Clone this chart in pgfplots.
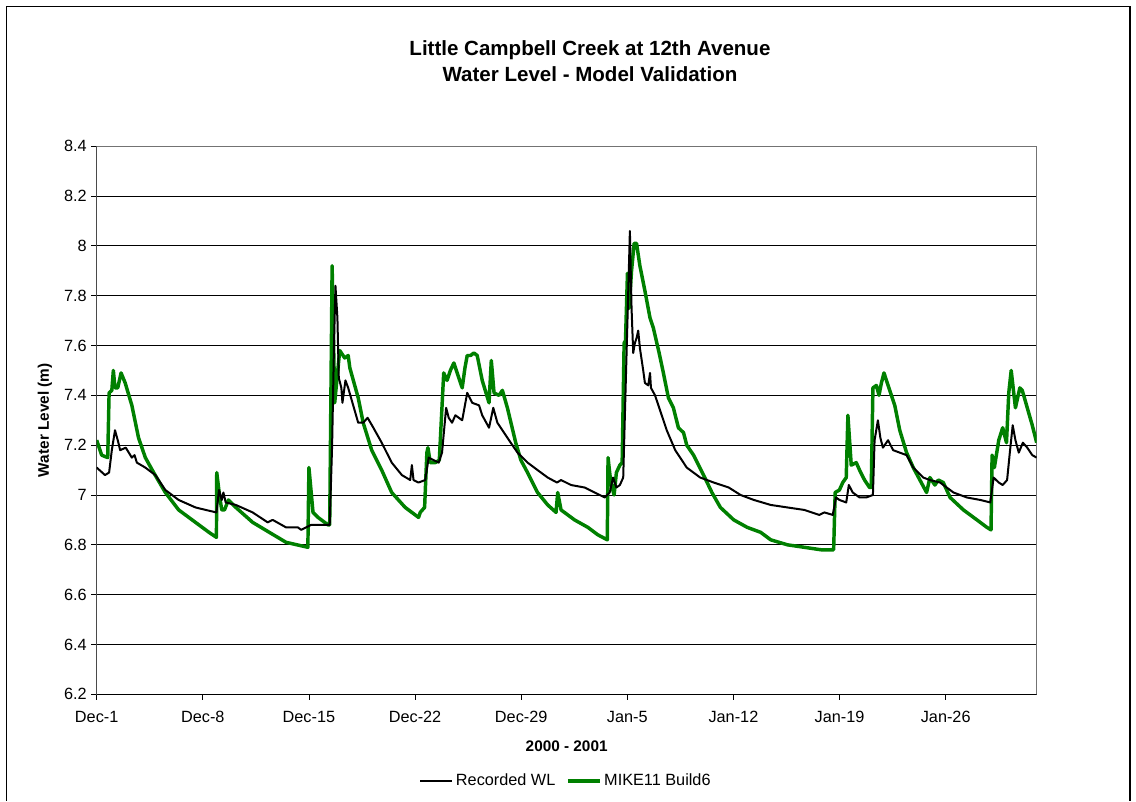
\documentclass[border=0pt]{standalone}
\usepackage{fontspec}
\setmainfont{Liberation Sans}
\usepackage{pgfplots}
\pgfplotsset{compat=1.18}
\definecolor{mikegreen}{RGB}{0,128,0}
\begin{document}
\begin{tikzpicture}
\path (-72.5pt,-80pt) rectangle (779.5pt,520.7pt);
\begin{axis}[
 at={(0,0)}, anchor=south west,
 width=705pt, height=411pt, scale only axis,
 xmin=0, xmax=62, ymin=6.2, ymax=8.4,
 xtick={0,7,14,21,28,35,42,49,56},
 xticklabels={Dec-1,Dec-8,Dec-15,Dec-22,Dec-29,Jan-5,Jan-12,Jan-19,Jan-26},
 ytick={6.2,6.4,6.6,6.8,7,7.2,7.4,7.6,7.8,8,8.2,8.4},
 yticklabels={6.2,6.4,6.6,6.8,7,7.2,7.4,7.6,7.8,8,8.2,8.4},
 ymajorgrids, major grid style={black, line width=0.6pt},
 tick align=outside, tick pos=left, major tick length=4pt,
 tick style={black, line width=0.6pt},
 axis line style={black!55, line width=0.8pt},
 ticklabel style={font=\fontsize{12.2}{14}\selectfont},
 xticklabel style={yshift=-5pt},
 /pgf/number format/assume math mode=true,
 xlabel={2000 - 2001},
 xlabel style={font=\bfseries\fontsize{11.5}{13}\selectfont, at={(axis description cs:0.5,-0.094)}, anchor=center},
 ylabel={Water Level (m)},
 ylabel style={font=\bfseries\fontsize{11.5}{13}\selectfont, at={(axis description cs:-0.055,0.5)}, anchor=center},
 title={Little Campbell Creek at 12th Avenue\\Water Level - Model Validation},
 title style={font=\bfseries\fontsize{15.4}{19.5}\selectfont, align=center, at={(axis description cs:0.5248,1.1415)}, anchor=center},
 legend style={at={(axis description cs:0.4996,-0.158)}, anchor=center, draw=none, fill=none, legend columns=2,
   font=\fontsize{12.2}{14}\selectfont, /tikz/every even column/.append style={column sep=6pt}},
 legend image code/.code={\draw[#1] (0pt,0pt) -- (24pt,0pt);},
]
\addlegendimage{black, line width=1.5pt}
\addlegendentry{Recorded WL}
\addlegendimage{mikegreen, line width=2.6pt}
\addlegendentry{MIKE11 Build6}
\addplot[mikegreen, line width=2.6pt, line join=round, forget plot] coordinates {
(0,7.22)(0.33,7.16)(0.73,7.15)(0.82,7.41)(1.00,7.42)(1.10,7.50)(1.21,7.43)(1.39,7.43)(1.61,7.49)(1.88,7.45)(2.32,7.36)(2.76,7.23)(3.21,7.15)(3.76,7.09)(4.53,7.01)(5.41,6.94)(6.52,6.89)(7.41,6.85)(7.90,6.83)(7.92,7.09)(8.12,6.99)(8.25,6.94)(8.43,6.94)(8.69,6.98)(9.18,6.95)(10.29,6.89)(11.39,6.85)(12.49,6.81)(13.93,6.79)(14.00,7.11)(14.27,6.93)(14.60,6.91)(15.26,6.88)(15.37,6.88)(15.45,7.40)(15.53,7.92)(15.70,7.37)(16.03,7.58)(16.36,7.55)(16.59,7.56)(16.70,7.51)(17.25,7.39)(17.58,7.29)(18.14,7.18)(18.80,7.10)(19.46,7.01)(20.35,6.95)(21.23,6.91)(21.34,6.93)(21.63,6.95)(21.78,7.17)(21.85,7.19)(22.00,7.13)(22.34,7.13)(22.60,7.14)(22.89,7.49)(23.11,7.46)(23.33,7.50)(23.56,7.53)(23.78,7.49)(24.11,7.43)(24.29,7.51)(24.44,7.56)(24.66,7.56)(24.88,7.57)(25.10,7.56)(25.43,7.46)(25.88,7.37)(26.03,7.54)(26.21,7.41)(26.54,7.40)(26.76,7.42)(27.09,7.35)(27.64,7.21)(27.98,7.14)(28.42,7.09)(29.08,7.01)(29.75,6.96)(30.30,6.93)(30.41,7.01)(30.63,6.94)(31.52,6.90)(32.40,6.87)(33.06,6.84)(33.68,6.82)(33.73,7.15)(33.91,7.05)(34.13,7.00)(34.28,7.09)(34.51,7.12)(34.66,7.13)(34.79,7.61)(34.88,7.62)(35.01,7.89)(35.12,7.75)(35.28,7.90)(35.45,8.01)(35.61,8.01)(35.83,7.92)(36.16,7.82)(36.50,7.71)(36.72,7.67)(37.10,7.57)(37.38,7.49)(37.71,7.39)(38.04,7.35)(38.37,7.27)(38.71,7.25)(38.92,7.20)(39.37,7.16)(40.03,7.08)(40.58,7.01)(41.14,6.95)(42.02,6.90)(42.91,6.87)(43.80,6.85)(44.46,6.82)(45.56,6.80)(46.67,6.79)(47.78,6.78)(48.61,6.78)(48.71,7.01)(48.99,7.02)(49.21,7.05)(49.44,7.07)(49.55,7.32)(49.77,7.12)(50.10,7.13)(50.32,7.10)(50.65,7.06)(50.98,7.03)(51.09,7.03)(51.20,7.43)(51.43,7.44)(51.60,7.40)(51.76,7.45)(51.93,7.49)(52.31,7.42)(52.64,7.36)(52.97,7.26)(53.42,7.17)(53.86,7.11)(54.30,7.06)(54.74,7.01)(54.96,7.07)(55.29,7.04)(55.51,7.06)(55.84,7.05)(56.29,6.99)(57.17,6.94)(58.06,6.90)(58.72,6.87)(58.99,6.86)(59.06,7.16)(59.21,7.11)(59.50,7.22)(59.76,7.27)(60.01,7.21)(60.16,7.41)(60.32,7.50)(60.60,7.35)(60.89,7.43)(61.05,7.42)(61.38,7.35)(61.71,7.28)(62.0,7.21)
};
\addplot[black, line width=1.5pt, line join=round, forget plot] coordinates {
(0,7.11)(0.55,7.08)(0.82,7.09)(1.00,7.18)(1.21,7.26)(1.39,7.22)(1.55,7.18)(1.92,7.19)(2.32,7.15)(2.50,7.16)(2.65,7.13)(3.21,7.11)(3.87,7.08)(4.53,7.02)(5.41,6.98)(6.52,6.95)(7.19,6.94)(7.90,6.93)(8.07,7.02)(8.25,6.98)(8.36,7.01)(8.51,6.97)(9.18,6.96)(10.29,6.93)(11.28,6.89)(11.61,6.90)(12.49,6.87)(13.27,6.87)(13.49,6.86)(14.15,6.88)(14.60,6.88)(15.37,6.88)(15.53,7.20)(15.66,7.62)(15.75,7.84)(15.88,7.71)(15.97,7.47)(16.14,7.43)(16.21,7.37)(16.41,7.46)(16.59,7.43)(16.92,7.36)(17.25,7.29)(17.58,7.29)(17.87,7.31)(18.25,7.27)(18.80,7.21)(19.46,7.13)(20.13,7.08)(20.68,7.06)(20.79,7.12)(20.90,7.06)(21.23,7.05)(21.67,7.06)(21.90,7.15)(22.23,7.14)(22.56,7.13)(22.78,7.17)(23.05,7.35)(23.22,7.31)(23.44,7.29)(23.66,7.32)(24.11,7.30)(24.44,7.41)(24.77,7.37)(25.22,7.36)(25.43,7.32)(25.88,7.27)(26.16,7.35)(26.43,7.29)(26.87,7.25)(27.31,7.21)(27.76,7.17)(28.42,7.13)(29.08,7.10)(29.75,7.07)(30.36,7.05)(30.63,7.06)(31.29,7.04)(32.18,7.03)(32.85,7.01)(33.51,6.99)(33.84,7.01)(34.06,7.07)(34.28,7.03)(34.51,7.04)(34.73,7.07)(34.88,7.41)(35.01,7.70)(35.17,8.06)(35.28,7.75)(35.39,7.57)(35.50,7.61)(35.61,7.63)(35.72,7.66)(35.83,7.59)(36.05,7.50)(36.16,7.45)(36.38,7.44)(36.50,7.49)(36.56,7.43)(36.83,7.40)(37.05,7.36)(37.16,7.34)(37.60,7.26)(38.16,7.18)(38.92,7.11)(39.81,7.07)(40.70,7.05)(41.69,7.03)(42.47,7.00)(43.35,6.98)(44.46,6.96)(45.56,6.95)(46.67,6.94)(47.66,6.92)(48.00,6.93)(48.55,6.92)(48.77,6.99)(48.99,6.98)(49.44,6.97)(49.61,7.04)(49.87,7.01)(50.32,6.99)(50.76,6.99)(51.20,7.00)(51.31,7.22)(51.53,7.30)(51.69,7.23)(51.86,7.19)(52.20,7.22)(52.53,7.18)(52.97,7.17)(53.42,7.16)(53.86,7.11)(54.52,7.07)(54.96,7.06)(55.63,7.05)(56.51,7.01)(57.40,6.99)(58.28,6.98)(58.94,6.97)(59.16,7.07)(59.50,7.05)(59.76,7.04)(60.05,7.06)(60.23,7.17)(60.42,7.28)(60.60,7.22)(60.82,7.17)(61.09,7.21)(61.38,7.19)(61.71,7.16)(62.0,7.15)
};
\draw[black, line width=0.8pt] (rel axis cs:0,1) -- (rel axis cs:0,0) -- (rel axis cs:1,0);
\end{axis}
\draw[black, line width=0.8pt] (-67.3pt,-80pt) -- (-67.3pt,515.5pt) -- (775pt,515.5pt) -- (775pt,-80pt);
\end{tikzpicture}
\end{document}
